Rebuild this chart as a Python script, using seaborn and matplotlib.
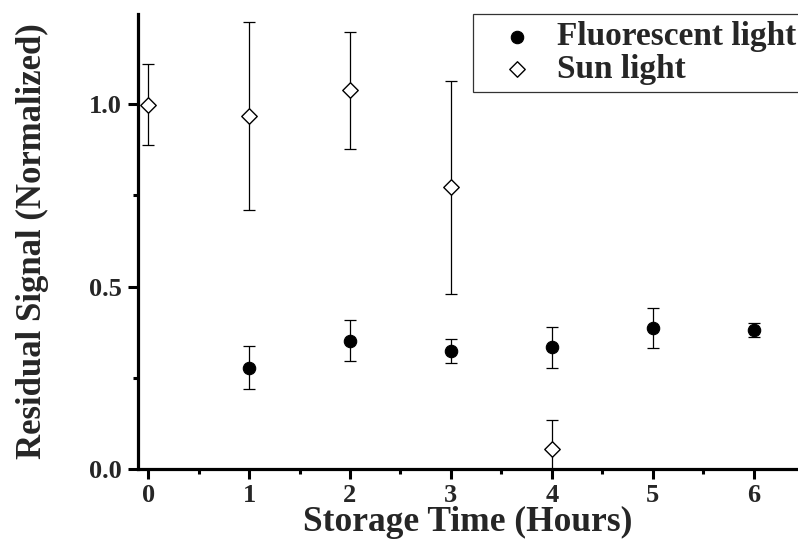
import numpy as np
import pandas as pd
import matplotlib
matplotlib.use('Agg')
import matplotlib.pyplot as plt
import seaborn as sns
from matplotlib.ticker import MultipleLocator

# values
fl_time = [1, 2, 3, 4, 5, 6]
fl_signal = [0.278, 0.352, 0.323, 0.334, 0.386, 0.380]
fl_err = [0.060, 0.056, 0.033, 0.056, 0.054, 0.019]

sun_time = [0, 1, 2, 3, 4]
sun_signal = [0.999, 0.968, 1.038, 0.772, 0.055]
sun_err = [0.111, 0.258, 0.160, 0.293, 0.078]

x_ticks = [0, 1, 2, 3, 4, 5, 6]
y_ticks = [0.0, 0.5, 1.0]

sns.set_style("ticks")
plt.rcParams['font.family'] = ['Liberation Serif', 'DejaVu Serif']
plt.rcParams['font.weight'] = 'bold'
plt.rcParams['axes.labelweight'] = 'bold'

fl = pd.DataFrame({'t': fl_time, 'v': fl_signal})
sun = pd.DataFrame({'t': sun_time, 'v': sun_signal})

fig = plt.figure(figsize=(7.98, 5.44), dpi=100)
ax = fig.add_axes([0.173, 0.138, 0.827, 0.836])

ax.errorbar(fl_time, fl_signal, yerr=fl_err, fmt='none', ecolor='black',
            elinewidth=0.9, capsize=4, capthick=0.9, zorder=2)
ax.errorbar(sun_time, sun_signal, yerr=sun_err, fmt='none', ecolor='black',
            elinewidth=0.9, capsize=4, capthick=0.9, zorder=2)

sns.scatterplot(data=fl, x='t', y='v', ax=ax, marker='o', color='black',
                edgecolor='black', s=80, linewidth=0.8, zorder=3,
                label='Fluorescent light')
sns.scatterplot(data=sun, x='t', y='v', ax=ax, marker='D', color='white',
                edgecolor='black', s=62, linewidth=1.0, zorder=3,
                label='Sun light')

ax.set_xlim(-0.1, 6.44)
ax.set_ylim(0, 1.247)
ax.set_xticks(x_ticks)
ax.set_yticks(y_ticks)
ax.set_yticklabels(['0.0', '0.5', '1.0'])
ax.xaxis.set_minor_locator(MultipleLocator(0.5))
ax.yaxis.set_minor_locator(MultipleLocator(0.25))

for s in ['top', 'right']:
    ax.spines[s].set_visible(False)
for s in ['left', 'bottom']:
    ax.spines[s].set_linewidth(2.3)
    ax.spines[s].set_color('black')

ax.tick_params(which='major', direction='out', length=7, width=2.2,
               labelsize=19, color='black')
ax.tick_params(which='minor', direction='out', length=3.5, width=2.2,
               color='black')
ax.tick_params(axis='x', which='major', pad=4)
ax.tick_params(axis='y', which='major', pad=4.5)
for lab in ax.get_xticklabels() + ax.get_yticklabels():
    lab.set_fontweight('bold')

ax.set_xlabel('Storage Time (Hours)', fontsize=25.5, fontweight='bold', labelpad=-1)
ax.set_ylabel('Residual Signal (Normalized)', fontsize=25, fontweight='bold', labelpad=29)

leg = ax.legend(loc='upper left', bbox_to_anchor=(0.508, 1.0), borderaxespad=0,
                frameon=True, fancybox=False, prop={'size': 24, 'weight': 'bold'},
                handletextpad=0.1, borderpad=0.22, labelspacing=0.05,
                handlelength=2.2)
leg.get_frame().set_edgecolor('black')
leg.get_frame().set_linewidth(0.9)

fig.savefig('out.png', dpi=100)
